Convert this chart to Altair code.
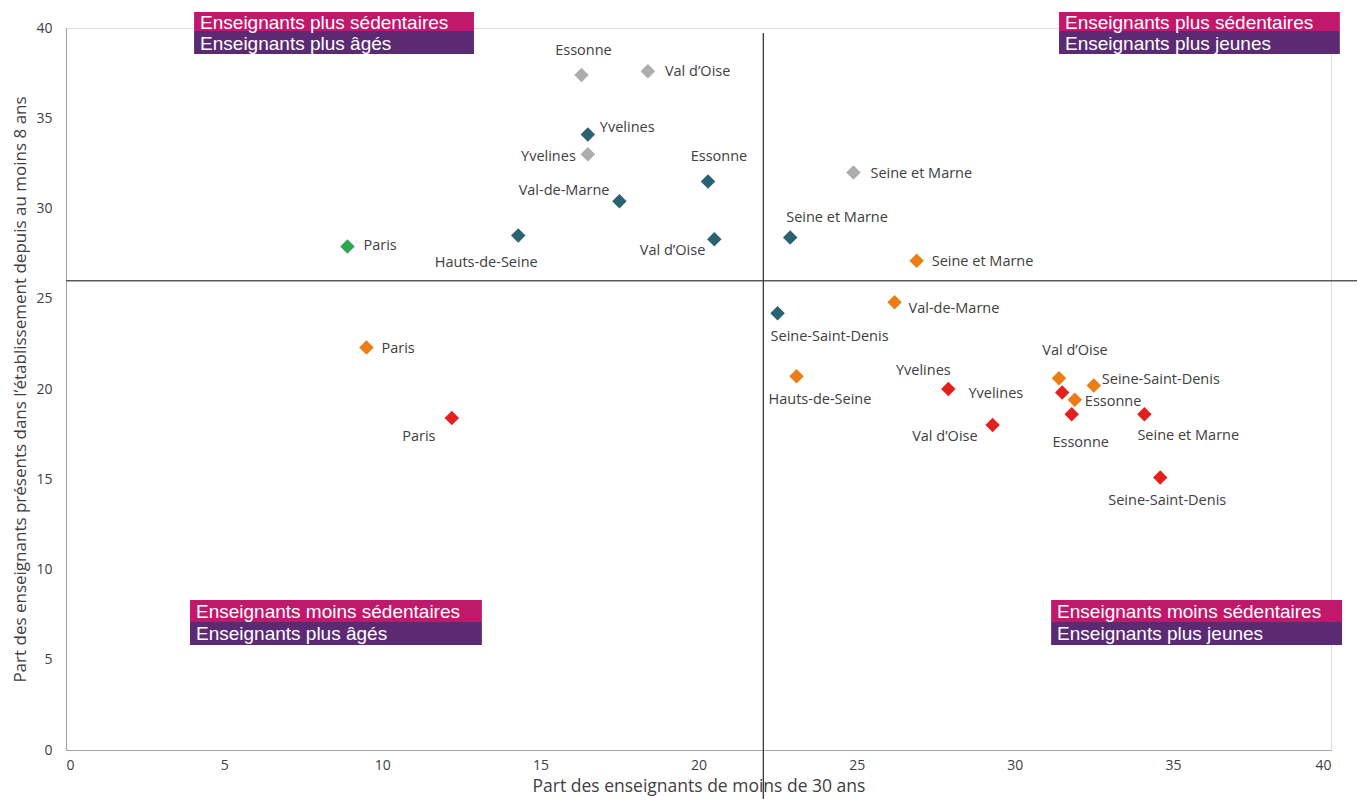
import altair as alt
import pandas as pd

# ---------------- data ----------------
SERIES = (["gris"] * 4 + ["bleu"] * 7 + ["vert"] * 1 + ["orange"] * 7 + ["rouge"] * 7)
DEPTS = [
    "Essonne", "Val d’Oise", "Yvelines", "Seine et  Marne",
    "Yvelines", "Essonne", "Val-de-Marne", "Hauts-de-Seine", "Val d’Oise", "Seine et  Marne", "Seine-Saint-Denis",
    "Paris",
    "Seine et  Marne", "Val-de-Marne", "Paris", "Hauts-de-Seine", "Val d’Oise", "Seine-Saint-Denis", "Essonne",
    "Paris", "Yvelines", "Yvelines", "Val d’Oise", "Essonne", "Seine et  Marne", "Seine-Saint-Denis",
]
X_VALS = [16.3, 18.4, 16.5, 24.9,
          16.5, 20.3, 17.5, 14.3, 20.5, 22.9, 22.5,
          8.9,
          26.9, 26.2, 9.5, 23.1, 31.4, 32.5, 31.9,
          12.2, 27.9, 31.5, 29.3, 31.8, 34.1, 34.6]
Y_VALS = [37.4, 37.6, 33.0, 32.0,
          34.1, 31.5, 30.4, 28.5, 28.3, 28.4, 24.2,
          27.9,
          27.1, 24.8, 22.3, 20.7, 20.6, 20.2, 19.4,
          18.4, 20.0, 19.8, 18.0, 18.6, 18.6, 15.1]

SERIES_DOMAIN = ["gris", "bleu", "vert", "orange", "rouge"]
SERIES_COLORS = ["#adadad", "#2b6272", "#2ea553", "#ec7c16", "#e3201f"]

# label placement (pixel offsets from the marker, and text alignment)
LABEL_DX = [2, 17, -12, 17,
            12, 11, -10, -32, -9, -4, -7,
            16,
            15, 14, 15, -28, 16, 8, 10,
            -33, -25, -39, -15, 9, -7, 7]
LABEL_DY = [-24, 1, 3, 2,
            -6, -24, -10, 27, 12, -19, 24,
            0,
            1, 7, 2, 24, -27, -5, 2,
            19, -18, 1, 12, 29, 22, 24]
LABEL_ALIGN = ["center", "left", "right", "left",
               "left", "center", "right", "center", "right", "left", "left",
               "left",
               "left", "left", "left", "left", "center", "left", "left",
               "center", "center", "right", "right", "center", "left", "center"]

# quadrant separators
QUAD_X = 22.05
QUAD_Y = 26.0

# quadrant captions
BOX_LINE1 = ["Enseignants plus sédentaires", "Enseignants plus sédentaires",
             "Enseignants moins sédentaires", "Enseignants moins sédentaires"]
BOX_LINE2 = ["Enseignants plus âgés", "Enseignants plus jeunes",
             "Enseignants plus âgés", "Enseignants plus jeunes"]
BOX_X0 = [4.05, 31.40, 3.92, 31.15]
BOX_X1 = [12.90, 40.28, 13.15, 40.35]
BOX_YTOP = [40.89, 40.89, 8.31, 8.31]
BOX_YMID = [39.83, 39.83, 7.09, 7.09]
BOX_YBOT = [38.56, 38.56, 5.82, 5.82]

# ---------------- chart ----------------
df = pd.DataFrame({"serie": SERIES, "dept": DEPTS, "x": X_VALS, "y": Y_VALS})
df["idx"] = range(len(df))

FONT = "Open Sans"
TXT = "#404040"

x_scale = alt.Scale(domain=[0, 40], nice=False, zero=False)
y_scale = alt.Scale(domain=[0, 40], nice=False, zero=False)

x_axis = alt.Axis(values=list(range(0, 41, 5)), ticks=False, grid=False,
                  domainColor="#a6a6a6", domainWidth=1.2,
                  labelFont=FONT, labelFontSize=14, labelColor=TXT, labelPadding=8,
                  titleFont=FONT, titleFontSize=17.5, titleFontWeight="normal",
                  titleColor=TXT, titlePadding=5)
y_axis = alt.Axis(values=list(range(0, 41, 5)), ticks=False, grid=False,
                  domainColor="#a6a6a6", domainWidth=1.2,
                  labelFont=FONT, labelFontSize=14, labelColor=TXT, labelPadding=14,
                  titleFont=FONT, titleFontSize=17, titleFontWeight="normal",
                  titleColor=TXT, titlePadding=6)

XT = "Part des enseignants de moins de 30 ans"
YT = "Part des enseignants présents dans l’établissement depuis au moins 8 ans"


def X(field):
    return alt.X(field, type="quantitative", scale=x_scale, axis=x_axis, title=XT)


def Y(field):
    return alt.Y(field, type="quantitative", scale=y_scale, axis=y_axis, title=YT)


boxes = pd.DataFrame({"l1": BOX_LINE1, "l2": BOX_LINE2, "x0": BOX_X0, "x1": BOX_X1,
                      "yt": BOX_YTOP, "ym": BOX_YMID, "yb": BOX_YBOT})
bbase = alt.Chart(boxes)
rect1 = bbase.mark_rect(color="#c0186b").encode(x=X("x0"), x2="x1", y=Y("yt"), y2="ym")
rect2 = bbase.mark_rect(color="#5c2a72").encode(x=X("x0"), x2="x1", y=Y("ym"), y2="yb")
btxt1 = bbase.transform_calculate(yc="(datum.yt + datum.ym) / 2").mark_text(
    align="left", baseline="middle", font="Liberation Sans", fontSize=19,
    color="white", dx=6, dy=1).encode(x=X("x0"), y=Y("yc"), text="l1:N")
btxt2 = bbase.transform_calculate(yc="(datum.ym + datum.yb) / 2").mark_text(
    align="left", baseline="middle", font="Liberation Sans", fontSize=19,
    color="white", dx=6, dy=1).encode(x=X("x0"), y=Y("yc"), text="l2:N")

hline = alt.Chart(pd.DataFrame({"x0": [0.0], "x1": [41.0], "y": [QUAD_Y]})).mark_rule(
    color="#5a5a5a", strokeWidth=1.5).encode(x=X("x0"), x2="x1", y=Y("y"))
vline = alt.Chart(pd.DataFrame({"x": [QUAD_X], "y0": [-3.4], "y1": [39.72]})).mark_rule(
    color="#3a3a3a", strokeWidth=1.3).encode(x=X("x"), y=Y("y0"), y2="y1")

points = alt.Chart(df).mark_point(shape="diamond", filled=True, size=210, opacity=1).encode(
    x=X("x"), y=Y("y"),
    color=alt.Color("serie:N", scale=alt.Scale(domain=SERIES_DOMAIN, range=SERIES_COLORS), legend=None),
)

label_layers = []
for i in range(len(df)):
    label_layers.append(
        alt.Chart(df).transform_filter(alt.datum.idx == i).mark_text(
            align=LABEL_ALIGN[i], baseline="middle", font=FONT, fontSize=14.5, color=TXT,
            dx=LABEL_DX[i], dy=LABEL_DY[i],
        ).encode(x=X("x"), y=Y("y"), text="dept:N")
    )

chart = alt.layer(rect1, rect2, btxt1, btxt2, hline, vline, points, *label_layers).properties(
    width=1265, height=722,
    autosize=alt.AutoSizeParams(type="none"),
    padding={"left": 58, "top": 20, "right": 26, "bottom": 49},
).configure_view(strokeWidth=0, stroke="transparent").configure(background="white")

chart.save("out.html", embed_options={"renderer": "svg", "actions": False})
